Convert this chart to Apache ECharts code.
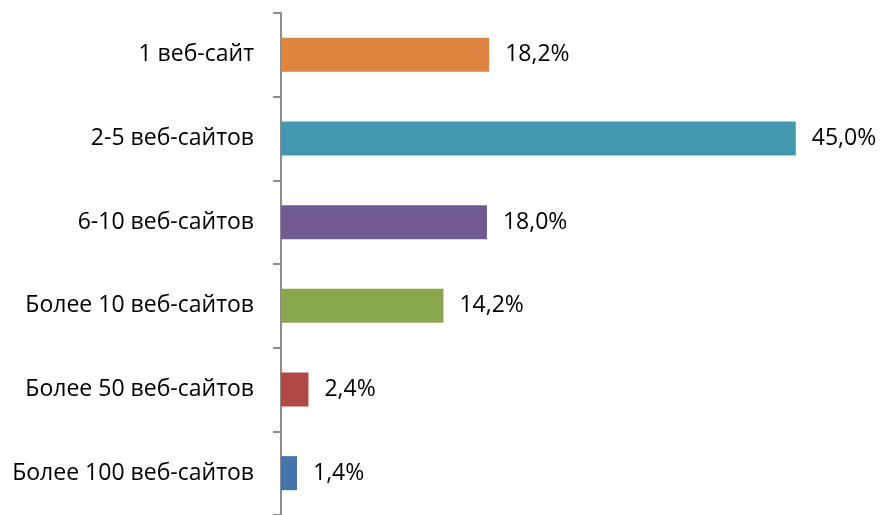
<!DOCTYPE html>
<html>
<head>
<meta charset="utf-8">
<script src="https://cdn.jsdelivr.net/npm/echarts@6/dist/echarts.min.js"></script>
<style>
  html, body { margin: 0; padding: 0; background: #fff; }
  #chart { width: 883px; height: 515px; }
</style>
</head>
<body>
<div id="chart"></div>
<script>
  // data, top to bottom
  var categories = ['1 веб-сайт', '2-5 веб-сайтов', '6-10 веб-сайтов', 'Более 10 веб-сайтов', 'Более 50 веб-сайтов', 'Более 100 веб-сайтов']
  var values = [18.2, 45.0, 18.0, 14.2, 2.4, 1.4]
  var colors = ['#dd843e', '#4299b0', '#725a92', '#89a74d', '#b04845', '#4673aa']

  var chart = echarts.init(document.getElementById('chart'))
  chart.setOption({
    backgroundColor: '#fff',
    animation: false,
    textStyle: { fontFamily: 'Open Sans' },
    grid: {
      left: 281,
      top: 13,
      width: 572,
      height: 504
    },
    xAxis: {
      type: 'value',
      min: 0,
      max: 50,
      show: false
    },
    yAxis: {
      type: 'category',
      inverse: true,
      data: categories,
      axisLine: {
        show: true,
        lineStyle: { color: '#8c8c8c', width: 2 }
      },
      axisTick: {
        show: true,
        length: 8,
        lineStyle: { color: '#8c8c8c', width: 2 }
      },
      axisLabel: {
        color: '#000',
        fontSize: 23,
        margin: 27
      }
    },
    series: [
      {
        type: 'bar',
        barWidth: 34,
        data: values.map(function (v, i) {
          return { value: v, itemStyle: { color: colors[i] } }
        }),
        label: {
          show: true,
          position: 'right',
          distance: 16,
          color: '#000',
          fontSize: 23,
          formatter: function (p) {
            return p.value.toFixed(1).replace('.', ',') + '%'
          }
        }
      }
    ]
  })
</script>
</body>
</html>
